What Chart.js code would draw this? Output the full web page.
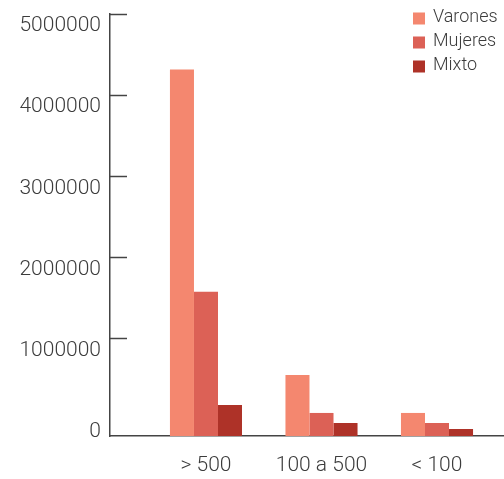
<!DOCTYPE html>
<html>
<head>
<meta charset="utf-8">
<script src="https://cdn.jsdelivr.net/npm/chart.js@4/dist/chart.umd.min.js"></script>
<style>
  html, body { margin: 0; padding: 0; background: #ffffff; }
  #wrap { width: 504px; height: 479px; }
</style>
</head>
<body>
<div id="wrap"><canvas id="chart" width="504" height="479"></canvas></div>
<script>
// Población por tamaño de establecimiento, según tipo de alumnado
const categories = ['> 500', '100 a 500', '< 100'];
const seriesNames = ['Varones', 'Mujeres', 'Mixto'];
const varones = [4515000, 752000, 284000];
const mujeres = [1776000, 284000, 160000];
const mixto = [382000, 160000, 86000];
const yTickValues = [0, 1000000, 2000000, 3000000, 4000000, 5000000];

const seriesColors = ['#F4876F', '#DC6156', '#AE3228'];
const inkColor = '#3c3c3c';
const axisColor = '#444444';
const fontFamily = 'Roboto, "DejaVu Sans", sans-serif';

// one point per category, placed at its index along the x axis
const toPoints = values => values.map((v, i) => ({ x: i + 1, y: v }));

// vertical legend in the top-right corner of the plot
const cornerLegend = {
  id: 'cornerLegend',
  afterDraw(chart, args, opts) {
    const { ctx, chartArea } = chart;
    ctx.save();
    ctx.font = opts.font;
    ctx.textBaseline = 'middle';
    ctx.textAlign = 'left';
    chart.data.datasets.forEach((ds, i) => {
      const cy = chartArea.top + opts.top + i * opts.rowHeight;
      const bx = chartArea.right - opts.right;
      ctx.fillStyle = ds.backgroundColor;
      ctx.fillRect(bx, cy - opts.box / 2, opts.box, opts.box);
      ctx.fillStyle = opts.color;
      ctx.fillText(ds.label, bx + opts.box + opts.gap, cy - 1);
    });
    ctx.restore();
  }
};

const datasets = [varones, mujeres, mixto].map((values, i) => ({
  label: seriesNames[i],
  data: toPoints(values),
  backgroundColor: seriesColors[i],
  borderWidth: 0,
  yAxisID: 'yBars',
  categoryPercentage: 0.624,
  barPercentage: 1.0
}));

new Chart(document.getElementById('chart'), {
  type: 'bar',
  data: { datasets },
  plugins: [cornerLegend],
  options: {
    responsive: false,
    animation: false,
    devicePixelRatio: 1,
    layout: { padding: { top: 14, right: 0, bottom: 0, left: 0 } },
    plugins: {
      legend: { display: false },
      tooltip: { enabled: false },
      cornerLegend: {
        font: '300 18px ' + fontFamily,
        color: inkColor,
        top: 4.5,
        right: 91,
        rowHeight: 24,
        box: 12,
        gap: 8
      }
    },
    scales: {
      x: {
        type: 'linear',
        offset: false,
        min: 0.169,
        max: 3.58,
        afterBuildTicks: scale => { scale.ticks = categories.map((c, i) => ({ value: i + 1 })); },
        afterFit: scale => { scale.height = 43; scale.paddingLeft = 0; scale.paddingRight = 0; },
        grid: { display: false, drawTicks: false, offset: false },
        border: { display: true, color: axisColor, width: 1.6 },
        ticks: {
          padding: 17,
          maxRotation: 0,
          autoSkip: false,
          color: inkColor,
          font: { family: fontFamily, size: 21, weight: 300 },
          callback: value => categories[value - 1]
        }
      },
      y: {
        position: 'left',
        min: -200000,
        max: 5000000,
        afterBuildTicks: scale => { scale.ticks = yTickValues.map(v => ({ value: v })); },
        afterFit: scale => { scale.width = 110; scale.paddingTop = 0; scale.paddingBottom = 0; },
        grid: {
          drawOnChartArea: false,
          drawTicks: true,
          tickLength: -17,
          tickWidth: 1.5,
          tickColor: ctx => (ctx.tick && ctx.tick.value === 0) ? 'rgba(0,0,0,0)' : axisColor
        },
        border: { display: true, color: axisColor, width: 1.5 },
        ticks: {
          padding: 26,
          labelOffset: 12,
          color: inkColor,
          font: { family: fontFamily, size: 21, weight: 300 },
          callback: value => String(value)
        }
      },
      yBars: {
        display: false,
        position: 'left',
        min: 0,
        max: 5200000
      }
    }
  }
});
</script>
</body>
</html>
